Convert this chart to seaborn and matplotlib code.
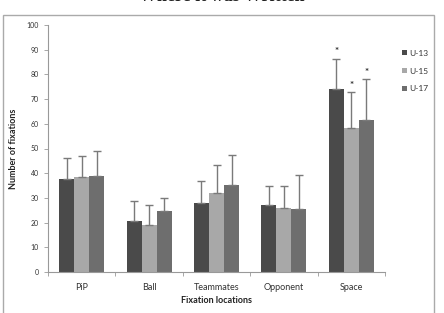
import pandas as pd
import numpy as np
import matplotlib
matplotlib.use('Agg')
import matplotlib.pyplot as plt
import seaborn as sns
from matplotlib.patches import Rectangle

# Data
locations = ['PiP', 'Ball', 'Teammates', 'Opponent', 'Space']
groups = ['U-13', 'U-15', 'U-17']
means = {
    'U-13': [37.8, 20.6, 28.1, 27.3, 73.9],
    'U-15': [38.3, 18.9, 32.1, 25.9, 58.5],
    'U-17': [38.9, 24.6, 35.2, 25.7, 61.6],
}
upper = {
    'U-13': [46.1, 28.8, 36.9, 34.9, 86.3],
    'U-15': [46.9, 27.0, 43.3, 35.0, 72.8],
    'U-17': [48.9, 30.0, 47.3, 39.1, 78.1],
}
star_groups = {'U-13': 4, 'U-15': 4, 'U-17': 4}  # significance star on Space
colors = ['#4a4a4a', '#a8a8a8', '#6e6e6e']

df = pd.DataFrame([
    {'location': loc, 'group': g, 'value': means[g][i]}
    for g in groups for i, loc in enumerate(locations)
])

sns.set_style('white')
plt.rcParams['font.family'] = ['Lato', 'DejaVu Sans']

fig = plt.figure(figsize=(4.44, 3.13), dpi=100)
ax = fig.add_axes([48 / 444, 1 - 272 / 313, 337 / 444, 247 / 313])

sns.barplot(data=df, x='location', y='value', hue='group', order=locations,
            hue_order=groups, palette=colors, width=0.67, gap=0,
            saturation=1, linewidth=0, ax=ax, legend=True)

# one-sided error bars and stars
for g, cont in zip(groups, ax.containers):
    xs = np.array([b.get_x() + b.get_width() / 2 for b in cont])
    hs = np.array([b.get_height() for b in cont])
    err = np.array(upper[g]) - hs
    ax.errorbar(xs, hs, yerr=[np.zeros_like(err), err], fmt='none',
                ecolor='#7a7a7a', elinewidth=1, capsize=3, capthick=1, zorder=3)
    i = star_groups[g]
    ax.text(xs[i], upper[g][i] + 1.0, '*', ha='center', va='bottom',
            fontsize=7, fontweight='bold', color='#333333')

ax.set_ylim(0, 100)
ax.set_xlim(-0.5, 4.5)
ax.set_yticks(range(0, 101, 10))
ax.set_xticks(np.arange(-0.5, 5, 1), minor=True)
ax.tick_params(axis='x', which='major', length=0, labelsize=6.5, pad=8, colors='#333333')
ax.tick_params(axis='x', which='minor', length=3, width=0.6, direction='out', color='#999999', bottom=True)
ax.tick_params(axis='y', length=3, width=0.6, direction='out', labelsize=5, colors='#999999',
               labelcolor='#333333', left=True)
for s in ['top', 'right']:
    ax.spines[s].set_visible(False)
for s in ['left', 'bottom']:
    ax.spines[s].set_color('#999999')
    ax.spines[s].set_linewidth(0.8)

ax.set_xlabel('Fixation locations', fontsize=6.5, fontweight='bold', color='#222222', labelpad=3)
ax.set_ylabel('Number of fixations', fontsize=6.5, fontweight='bold', color='#222222', labelpad=6)

ax.legend(loc='upper left', bbox_to_anchor=(1.05, 0.9), frameon=False,
          borderaxespad=0, borderpad=0,
          fontsize=6, handlelength=0.6, handleheight=0.6, handletextpad=0.3,
          labelspacing=1.3, labelcolor='#333333')

# outer frame and clipped title
fig.patches.append(Rectangle((3 / 444, -0.05), 431 / 444, 1 - 15 / 313 + 0.05,
                             transform=fig.transFigure, fill=False,
                             edgecolor='#aaaaaa', linewidth=1))
fig.text(0.5, 1.012, 'Where it was Written', ha='center', va='center',
         fontsize=13, fontweight='bold', family='Liberation Serif', color='#222222')

fig.savefig('out.png', dpi=100)
